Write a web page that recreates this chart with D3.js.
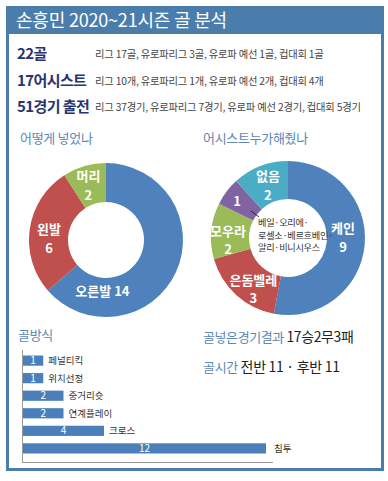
<!DOCTYPE html>
<html>
<head>
<meta charset="utf-8">
<script src="https://cdn.jsdelivr.net/npm/d3@7"></script>
<style>
  body { margin: 0; background: #fff; }
  svg { display: block; font-family: "Noto Sans CJK KR", "Noto Sans", sans-serif; }
</style>
</head>
<body>
<div id="chart"></div>
<script>
// data
const summaryHeads = ['22골', '17어시스트', '51경기 출전'];
const summaryDetails = [
    '리그 17골, 유로파리그 3골, 유로파 예선 1골, 컵대회 1골',
    '리그 10개, 유로파리그 1개, 유로파 예선 2개, 컵대회 4개',
    '리그 37경기, 유로파리그 7경기, 유로파 예선 2경기, 컵대회 5경기'
];
const footLabels = ['오른발', '왼발', '머리'];
const footValues = [14, 6, 2];
const assistLabels = ['케인', '은돔벨레', '모우라', '', '없음'];
const assistValues = [9, 3, 2, 1, 2];
const assistOthers = ['베일·오리에·', '로셀소·베르흐베인·', '알리·비니시우스'];
const methodLabels = ['페널티킥', '위치선정', '중거리슛', '연계플레이', '크로스', '침투'];
const methodValues = [1, 1, 2, 2, 4, 12];

const W = 388, H = 481;
const frameBlue = '#4a7dab';
const headBlue = '#5b88b4';
const sliceColors = ['#4f81bd', '#c0504d', '#9bbb59', '#8064a2', '#4bacc6'];

const svg = d3.select('#chart').append('svg')
    .attr('width', W)
    .attr('height', H);

// frame + title bar
svg.append('rect')
    .attr('x', 7.5).attr('y', 7.5)
    .attr('width', 375).attr('height', 462)
    .attr('fill', '#fff')
    .attr('stroke', frameBlue)
    .attr('stroke-width', 3);

svg.append('rect')
    .attr('x', 6).attr('y', 6)
    .attr('width', 378).attr('height', 28)
    .attr('fill', frameBlue);

svg.append('text')
    .attr('x', 16).attr('y', 27)
    .attr('fill', '#fff')
    .attr('font-size', 18)
    .attr('letter-spacing', -0.2)
    .text('손흥민 2020~21시즌 골 분석');

// summary rows
const rowY = d3.scalePoint().domain(d3.range(summaryHeads.length)).range([59, 112]);
summaryHeads.forEach((h, i) => {
    svg.append('text')
        .attr('x', 17).attr('y', rowY(i))
        .attr('fill', '#283470')
        .attr('font-size', 15)
        .attr('font-weight', 'bold')
        .attr('letter-spacing', -0.6)
        .text(h);
    svg.append('text')
        .attr('x', 95).attr('y', rowY(i) - 1)
        .attr('fill', '#444')
        .attr('font-size', 10.3)
        .attr('letter-spacing', -0.2)
        .text(summaryDetails[i]);
});

// section headings
const heading = (x, y, t, size) => svg.append('text')
    .attr('x', x).attr('y', y)
    .attr('fill', headBlue)
    .attr('font-size', size || 13)
    .attr('letter-spacing', -0.3)
    .text(t);

heading(20, 143, '어떻게 넣었나');
heading(203, 143, '어시스트누가해줬나');
heading(18, 340, '골방식');

// donuts
function donut(cx, cy, rOut, rIn, values, labels, labelPos) {
    const g = svg.append('g').attr('transform', `translate(${cx},${cy})`);
    const pie = d3.pie().sort(null).value(d => d);
    const arcs = pie(values);
    const arc = d3.arc().innerRadius(rIn).outerRadius(rOut);

    g.selectAll('path')
        .data(arcs)
        .join('path')
        .attr('d', arc)
        .attr('fill', (d, i) => sliceColors[i]);

    // label angle (deg, clockwise from top) and radius per slice
    arcs.forEach((d, i) => {
        const p = labelPos[i];
        const a = p.angle * Math.PI / 180;
        const x = Math.sin(a) * p.r, y = -Math.cos(a) * p.r;
        const lines = p.inline ? [labels[i] + ' ' + values[i]]
            : (labels[i] ? [labels[i], values[i]] : [values[i]]);
        const step = 18.5;
        const y0 = y - (lines.length - 1) * step / 2;
        lines.forEach((s, k) => {
            g.append('text')
                .attr('x', x).attr('y', y0 + k * step)
                .attr('dy', '0.36em')
                .attr('text-anchor', 'middle')
                .attr('fill', '#fff')
                .attr('font-size', 13)
                .attr('font-weight', 'bold')
                .text(s);
        });
    });
    return { g, arcs };
}

donut(106, 240, 77, 38, footValues, footLabels, [
    { angle: 184, r: 51, inline: true },
    { angle: 271, r: 57 },
    { angle: 342, r: 57 }
]);

const right = donut(288, 238, 77, 39, assistValues, assistLabels, [
    { angle: 90, r: 55 },
    { angle: 214, r: 62 },
    { angle: 268, r: 60 },
    { angle: 306, r: 63 },
    { angle: 339, r: 56 }
]);

// leader from the "1" slice into the hole
const leadA = 306 * Math.PI / 180;
right.g.append('line')
    .attr('x1', Math.sin(leadA) * 46).attr('y1', -Math.cos(leadA) * 46)
    .attr('x2', Math.sin(leadA) * 36).attr('y2', -Math.cos(leadA) * 36)
    .attr('stroke', '#1f2450')
    .attr('stroke-width', 1);

right.g.selectAll('text.others')
    .data(assistOthers)
    .join('text')
    .attr('class', 'others')
    .attr('x', -30)
    .attr('y', (d, i) => -12 + i * 12.5)
    .attr('fill', '#333')
    .attr('font-size', 9.2)
    .attr('letter-spacing', -0.3)
    .text(d => d);

// results text
svg.append('text')
    .attr('x', 203).attr('y', 342)
    .attr('font-size', 13)
    .attr('letter-spacing', -0.4)
    .call(t => t.append('tspan').attr('fill', headBlue).text('골넣은경기결과 '))
    .call(t => t.append('tspan').attr('fill', '#222').attr('font-size', 14).text('17승2무3패'));

svg.append('text')
    .attr('x', 203).attr('y', 372)
    .attr('font-size', 13)
    .attr('letter-spacing', -0.3)
    .call(t => t.append('tspan').attr('fill', headBlue).text('골시간 '))
    .call(t => t.append('tspan').attr('fill', '#222').attr('font-size', 14).text(' 전반 11 · 후반 11'));

// bar chart
const x = d3.scaleLinear().domain([0, 12]).range([23, 266]);
const y = d3.scaleBand().domain(methodLabels).range([352, 457]).paddingInner(0.42).paddingOuter(0.2);

const bars = svg.append('g');
bars.selectAll('rect')
    .data(methodValues)
    .join('rect')
    .attr('x', x(0))
    .attr('y', (d, i) => y(methodLabels[i]))
    .attr('width', d => x(d) - x(0))
    .attr('height', y.bandwidth())
    .attr('fill', '#4a7fb9');

bars.selectAll('text.val')
    .data(methodValues)
    .join('text')
    .attr('class', 'val')
    .attr('x', d => (x(d) + x(0)) / 2)
    .attr('y', (d, i) => y(methodLabels[i]) + y.bandwidth() / 2)
    .attr('dy', '0.36em')
    .attr('text-anchor', 'middle')
    .attr('fill', '#fff')
    .attr('font-size', 10)
    .text(d => d);

bars.selectAll('text.cat')
    .data(methodValues)
    .join('text')
    .attr('class', 'cat')
    .attr('x', d => x(d) + (d >= 10 ? 8 : 5))
    .attr('y', (d, i) => y(methodLabels[i]) + y.bandwidth() / 2)
    .attr('dy', '0.36em')
    .attr('fill', '#333')
    .attr('font-size', 9.5)
    .text((d, i) => methodLabels[i]);

// axis lines
svg.append('line')
    .attr('x1', 22.5).attr('x2', 22.5)
    .attr('y1', 350).attr('y2', 462)
    .attr('stroke', '#999');
svg.append('line')
    .attr('x1', 22).attr('x2', 273)
    .attr('y1', 462.5).attr('y2', 462.5)
    .attr('stroke', '#999');
</script>
</body>
</html>
